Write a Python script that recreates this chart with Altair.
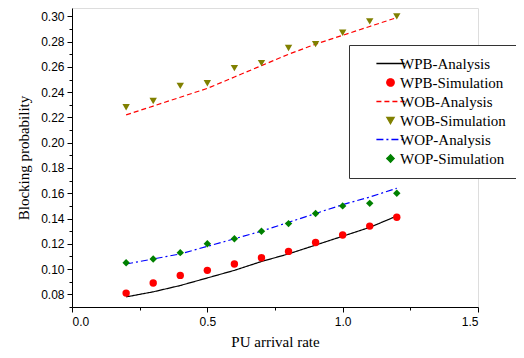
import altair as alt
import pandas as pd

x_vals = [0.2, 0.3, 0.4, 0.5, 0.6, 0.7, 0.8, 0.9, 1.0, 1.1, 1.2]
wpb_analysis = [0.078, 0.082, 0.087, 0.093, 0.099, 0.106, 0.112, 0.119, 0.126, 0.133, 0.142]
wpb_simulation = [0.081, 0.089, 0.095, 0.099, 0.104, 0.109, 0.114, 0.121, 0.127, 0.134, 0.141]
wob_analysis = [0.222, 0.229, 0.236, 0.243, 0.252, 0.261, 0.270, 0.278, 0.285, 0.292, 0.299]
wob_simulation = [0.228, 0.233, 0.245, 0.247, 0.259, 0.263, 0.275, 0.278, 0.287, 0.296, 0.300]
wop_analysis = [0.104, 0.108, 0.112, 0.118, 0.124, 0.130, 0.137, 0.144, 0.151, 0.157, 0.164]
wop_simulation = [0.105, 0.108, 0.113, 0.120, 0.124, 0.130, 0.136, 0.144, 0.150, 0.152, 0.160]

labels = ["WPB-Analysis", "WPB-Simulation", "WOB-Analysis",
          "WOB-Simulation", "WOP-Analysis", "WOP-Simulation"]
colors = ["#000000", "#ff0000", "#ff0000", "#808000", "#0000ff", "#008000"]
line_sym = "M-3.8,0H3.8"
shapes = [line_sym, "circle", line_sym, "triangle-down", line_sym, "diamond"]
dashes = [[1, 0], [1, 0], [5, 3], [1, 0], [7, 3, 2, 3], [1, 0]]

x_major = [0.0, 0.5, 1.0, 1.5]
x_minor = [0.25, 0.75, 1.25]
y_major = [0.08, 0.10, 0.12, 0.14, 0.16, 0.18, 0.20, 0.22, 0.24, 0.26, 0.28, 0.30]
y_minor = [0.07, 0.09, 0.11, 0.13, 0.15, 0.17, 0.19, 0.21, 0.23, 0.25, 0.27, 0.29]

series = [
    ("WPB-Analysis", "Analysis", wpb_analysis),
    ("WPB-Simulation", "Simulation", wpb_simulation),
    ("WOB-Analysis", "Analysis", wob_analysis),
    ("WOB-Simulation", "Simulation", wob_simulation),
    ("WOP-Analysis", "Analysis", wop_analysis),
    ("WOP-Simulation", "Simulation", wop_simulation),
]
rows = []
for name, kind, vals in series:
    for xv, yv in zip(x_vals, vals):
        rows.append({"x": xv, "y": yv, "series": name, "kind": kind})
df = pd.DataFrame(rows)

xscale = alt.Scale(domain=[0, 1.5], nice=False, zero=False)
yscale = alt.Scale(domain=[0.07, 0.3066], nice=False, zero=False)

legend = alt.Legend(
    title=None, orient="none", legendX=277, legendY=37,
    strokeColor="#333333", fillColor="white", padding=11,
    labelFont="Liberation Serif", labelFontSize=15, labelColor="black",
    symbolSize=55, symbolStrokeWidth=1.3, symbolOffset=23, labelOffset=2,
    rowPadding=3,
)

color = alt.Color("series:N", scale=alt.Scale(domain=labels, range=colors), legend=legend)

major_x_axis = alt.Axis(values=x_major, format=".1f", title="PU arrival rate",
                        labelFont="Liberation Sans", labelFontSize=12, labelColor="black",
                        titleFont="Liberation Serif", titleFontSize=15, titleFontWeight="normal",
                        titleColor="black", titlePadding=7, tickSize=5, labelPadding=4,
                        domainColor="black", tickColor="black", grid=False, orient="bottom")
major_y_axis = alt.Axis(values=y_major, format=".2f", title="Blocking probability",
                        labelFont="Liberation Sans", labelFontSize=12, labelColor="black",
                        titleFont="Liberation Serif", titleFontSize=15, titleFontWeight="normal",
                        titleColor="black", titlePadding=9, tickSize=5, labelPadding=3,
                        domainColor="black", tickColor="black", grid=False, orient="left")
minor_x_axis = alt.Axis(values=x_minor, labels=False, domain=False, title=None, tickSize=3,
                        tickColor="black", grid=False, orient="bottom")
minor_y_axis = alt.Axis(values=y_minor, labels=False, domain=False, title=None, tickSize=3,
                        tickColor="black", grid=False, orient="left")

lines = alt.Chart(df).transform_filter(alt.datum.kind == "Analysis").mark_line(
    strokeWidth=1.2, clip=False
).encode(
    x=alt.X("x:Q", scale=xscale, axis=major_x_axis),
    y=alt.Y("y:Q", scale=yscale, axis=major_y_axis),
    color=color,
    strokeDash=alt.StrokeDash("series:N", scale=alt.Scale(domain=labels, range=dashes), legend=legend),
)

points = alt.Chart(df).transform_filter(alt.datum.kind == "Simulation").mark_point(
    filled=True, size=55, opacity=1
).encode(
    x=alt.X("x:Q", scale=xscale, axis=minor_x_axis),
    y=alt.Y("y:Q", scale=yscale, axis=minor_y_axis),
    color=color,
    shape=alt.Shape("series:N", scale=alt.Scale(domain=labels, range=shapes), legend=legend),
)

chart = alt.layer(lines, points).resolve_axis(x="independent", y="independent").properties(
    width=406, height=299,
    autosize=alt.AutoSizeParams(type="none"),
    padding={"left": 64, "top": 0, "right": 38, "bottom": 43},
).configure_view(stroke=None).configure(background="white")

chart.save("out.html", embed_options={"renderer": "svg", "actions": False})
